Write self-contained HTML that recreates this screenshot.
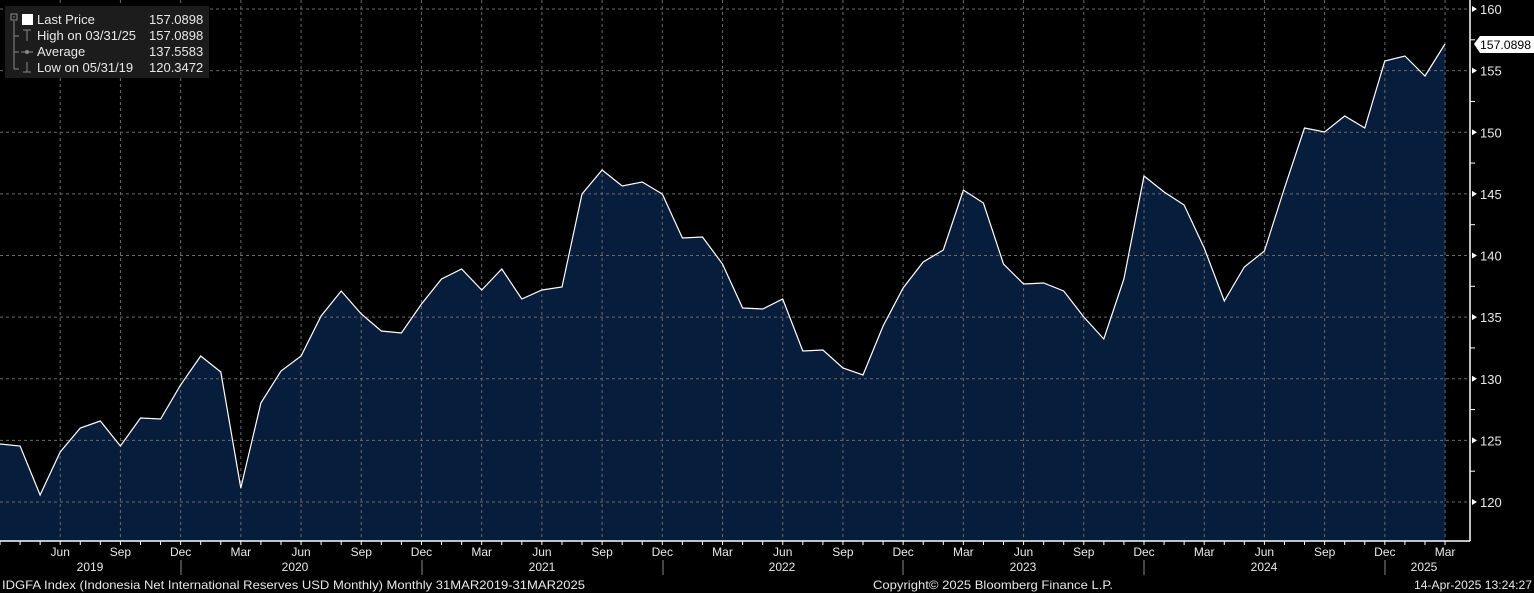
<!DOCTYPE html>
<html><head><meta charset="utf-8"><style>
html,body{margin:0;padding:0;background:#000;width:1534px;height:593px;overflow:hidden}
svg{display:block;font-family:"Liberation Sans",sans-serif}
</style></head><body>
<svg width="1534" height="593" viewBox="0 0 1534 593" xmlns="http://www.w3.org/2000/svg">
<rect width="1534" height="593" fill="#000"/>
<g id="area"></g>
<g id="grid" stroke="#6a6a6a" stroke-width="1" stroke-dasharray="3,3"></g>
<g id="line"></g>
<g id="axes"></g>
<rect x="5" y="6" width="204" height="72" fill="#1c1c1c"/>
<g stroke="#888" fill="none" stroke-width="1">
<rect x="11" y="14" width="6" height="6"/>
<line x1="13" y1="17" x2="15" y2="17"/>
<line x1="14" y1="21" x2="14" y2="69"/><line x1="14" y1="36" x2="19" y2="36"/><line x1="14" y1="52" x2="19" y2="52"/><line x1="14" y1="69" x2="19" y2="69"/>
<line x1="27" y1="30" x2="27" y2="41"/><line x1="23" y1="30" x2="31" y2="30"/>
<line x1="21" y1="52" x2="33" y2="52"/><circle cx="27" cy="52" r="1.5" fill="#888"/>
<line x1="27" y1="62" x2="27" y2="72"/><line x1="23" y1="72" x2="31" y2="72"/>
</g>
<rect x="22" y="14" width="11" height="11" fill="#fff"/>
<g fill="#e8e8e8" font-size="13">
<text x="37" y="24">Last Price</text><text x="149" y="24">157.0898</text>
<text x="37" y="40">High on 03/31/25</text><text x="149" y="40">157.0898</text>
<text x="37" y="56">Average</text><text x="149" y="56">137.5583</text>
<text x="37" y="72">Low on 05/31/19</text><text x="149" y="72">120.3472</text>
</g>
<path d="M1474 44 L1480 36 L1534 36 L1534 53 L1480 53 Z" fill="#fff"/>
<text x="1480" y="49" font-size="12" fill="#000" textLength="51" lengthAdjust="spacingAndGlyphs">157.0898</text>
<g fill="#e8e8e8" font-size="12">
<text x="2" y="589" textLength="583" lengthAdjust="spacingAndGlyphs">IDGFA Index (Indonesia Net International Reserves USD Monthly)  Monthly 31MAR2019-31MAR2025</text>
<text x="873" y="589" textLength="240" lengthAdjust="spacingAndGlyphs">Copyright© 2025 Bloomberg Finance L.P.</text>
<text x="1414" y="589" textLength="118" lengthAdjust="spacingAndGlyphs">14-Apr-2025 13:24:27</text>
</g>
</svg>
<script>
const ys=[444,446,495,452,428,421,446,418,419,385,356,372,488,403,371,356,316,291,314,331,333,304,279,269,290,269,299,290,287,194,170,186,182,194,238,237,264,308,309,299,351,350,368,375,326,288,262,250,190,203,264,284,283,291,317,339,279,176,192,205,248,301,267,251,188,128,132,116,128,61,56,76,44];
const dx=20.07, ns="http://www.w3.org/2000/svg";
function el(p,t,a){const e=document.createElementNS(ns,t);for(const k in a)e.setAttribute(k,a[k]);p.appendChild(e);return e;}
const pts=ys.map((y,i)=>(i*dx).toFixed(1)+","+y);
const area=document.getElementById('area'),grid=document.getElementById('grid'),line=document.getElementById('line'),ax=document.getElementById('axes');
el(area,'polygon',{points:"0,541 "+pts.join(" ")+" "+(72*dx).toFixed(1)+",541",fill:"#061d3b"});
el(line,'polyline',{points:pts.join(" "),fill:"none",stroke:"#fff","stroke-width":1.2});
const yv=v=>9+(160-v)*12.325;
for(let v=120;v<=160;v+=5){const y=yv(v);el(grid,'line',{x1:0,x2:1470,y1:y,y2:y});
 el(ax,'path',{d:`M1472 ${y-3} L1477 ${y} L1472 ${y+3} Z`,fill:"#fff"});
 const t=el(ax,'text',{x:1480,y:y+5,"font-size":13,fill:"#e8e8e8"});t.textContent=v;
 if(v<160){const y2=yv(v+2.5);el(ax,'line',{x1:1470,x2:1475,y1:y2,y2:y2,stroke:"#fff"});}
}
el(ax,'line',{x1:1470,x2:1470,y1:0,y2:541,stroke:"#fff","stroke-width":1.5});
el(ax,'line',{x1:0,x2:1470,y1:541,y2:541,stroke:"#fff","stroke-width":1.5});
const mn=["Mar","Jun","Sep","Dec"];
for(let i=0;i<=72;i++){const x=i*dx;el(ax,'line',{x1:x,x2:x,y1:541,y2:545,stroke:"#fff"});
 if(i%3==0&&i>0){el(grid,'line',{x1:x,x2:x,y1:0,y2:541});
  const t=el(ax,'text',{x:x,y:556,"font-size":12,fill:"#e8e8e8","text-anchor":"middle"});t.textContent=mn[(i/3)%4];}
}
[[90,"2019"],[295,"2020"],[542,"2021"],[782,"2022"],[1023,"2023"],[1264,"2024"],[1424,"2025"]].forEach(([x,s])=>{const t=el(ax,'text',{x:x,y:571,"font-size":12,fill:"#e8e8e8","text-anchor":"middle"});t.textContent=s;});
[181,422,663,903,1144,1385].forEach(x=>el(ax,'line',{x1:x,x2:x,y1:560,y2:575,stroke:"#888"}));
</script>
</body></html>
